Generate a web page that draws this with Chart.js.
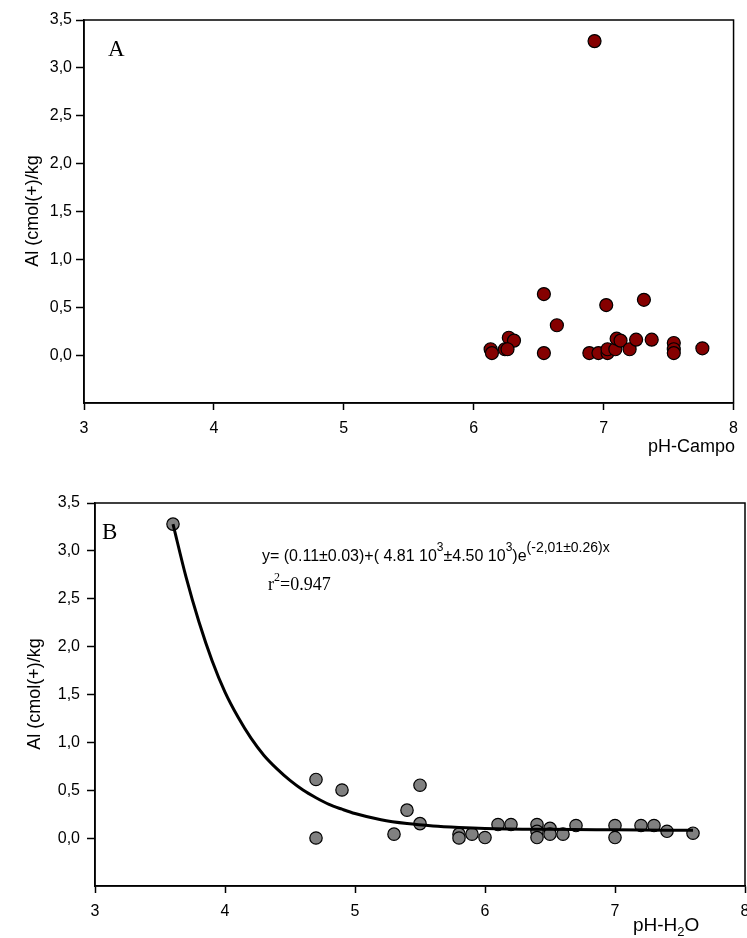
<!DOCTYPE html>
<html>
<head>
<meta charset="utf-8">
<script src="https://cdn.jsdelivr.net/npm/chart.js@4.4.1/dist/chart.umd.min.js"></script>
<style>
  html, body { margin:0; padding:0; background:#fff; overflow:hidden; width:747px; height:938px; }
  #wa { position:absolute; left:0; top:0; }
  #wb { position:absolute; left:0; top:460px; }
</style>
</head>
<body>
<div id="wa"><canvas id="ca" width="747" height="460"></canvas></div>
<div id="wb"><canvas id="cb" width="760" height="478"></canvas></div>
<script>
// ---------- Data ----------
const xTicks = [3, 4, 5, 6, 7, 8];
const yTicks = [0, 0.5, 1.0, 1.5, 2.0, 2.5, 3.0, 3.5];

// Panel A: Al vs pH-Campo
const phCampo = [6.93, 6.54, 6.64, 7.02, 7.31, 6.27, 6.31, 6.13, 6.14, 6.24, 6.26, 6.54, 6.89, 6.96, 7.03, 7.03, 7.09, 7.10, 7.13, 7.20, 7.25, 7.37, 7.54, 7.54, 7.54, 7.76];
const alCampo = [3.28, 0.645, 0.32, 0.53, 0.585, 0.19, 0.16, 0.07, 0.03, 0.07, 0.07, 0.03, 0.03, 0.03, 0.03, 0.07, 0.07, 0.18, 0.16, 0.07, 0.17, 0.17, 0.135, 0.07, 0.03, 0.08];

// Panel B: Al vs pH-H2O
const phH2O = [3.6, 4.7, 4.7, 4.9, 5.3, 5.4, 5.5, 5.5, 5.8, 5.8, 5.9, 6.0, 6.1, 6.2, 6.4, 6.4, 6.4, 6.5, 6.5, 6.6, 6.7, 7.0, 7.0, 7.2, 7.3, 7.4, 7.6];
const alH2O = [3.28, 0.62, 0.01, 0.51, 0.05, 0.30, 0.56, 0.16, 0.05, 0.01, 0.05, 0.015, 0.15, 0.15, 0.15, 0.08, 0.015, 0.11, 0.05, 0.05, 0.14, 0.14, 0.015, 0.14, 0.14, 0.08, 0.06];

// Fitted curve of panel B
const fitX = [3.6, 3.7, 3.8, 3.9, 4.0, 4.1, 4.2, 4.3, 4.4, 4.5, 4.6, 4.7, 4.8, 4.9, 5.0, 5.2, 5.4, 5.6, 5.8, 6.0, 6.5, 7.0, 7.6];
const fitY = [3.28, 2.73, 2.26, 1.86, 1.53, 1.27, 1.05, 0.87, 0.73, 0.61, 0.51, 0.43, 0.36, 0.31, 0.265, 0.20, 0.16, 0.135, 0.12, 0.11, 0.10, 0.095, 0.09];

// ---------- Helpers ----------
const SANS = '"Liberation Sans", Arial, sans-serif';
const SERIF = '"Liberation Serif", "Times New Roman", serif';
const pts = (xs, ys) => xs.map((x, i) => ({ x: x, y: ys[i] }));
const fmtY = v => Number(v).toFixed(1).replace('.', ',');

const annot = {
  id: 'annot',
  afterDraw(chart, args, opts) {
    const ctx = chart.ctx, a = chart.chartArea;
    ctx.save();
    ctx.strokeStyle = '#000';
    ctx.lineWidth = 1.5;
    ctx.strokeRect(a.left, a.top, a.right - a.left, a.bottom - a.top);
    (opts.texts || []).forEach(item => {
      ctx.save();
      ctx.fillStyle = '#000';
      ctx.textBaseline = 'middle';
      ctx.textAlign = 'left';
      let w = 0;
      item.parts.forEach(p => { ctx.font = p.f; w += ctx.measureText(p.t).width; });
      ctx.translate(item.x, item.y);
      if (item.rot) ctx.rotate(item.rot * Math.PI / 180);
      let x0 = 0;
      if (item.align === 'center') x0 = -w / 2;
      else if (item.align === 'right') x0 = -w;
      item.parts.forEach(p => {
        ctx.font = p.f;
        ctx.fillText(p.t, x0, p.dy || 0);
        x0 += ctx.measureText(p.t).width;
      });
      ctx.restore();
    });
    ctx.restore();
  }
};

function axes(yWidth, xHeight, yPad, xPad) {
  return {
    x: {
      type: 'linear', min: 3, max: 8,
      afterBuildTicks: s => { s.ticks = xTicks.map(v => ({ value: v })); },
      afterFit: s => { s.height = xHeight; },
      ticks: { font: { family: SANS, size: 16 }, color: '#000', padding: xPad, callback: v => String(v) },
      grid: { display: true, drawOnChartArea: false, drawTicks: true, tickLength: 7, tickColor: '#000', tickWidth: 1.5 },
      border: { display: true, color: '#000', width: 1.5 }
    },
    y: {
      type: 'linear', min: -0.49, max: 3.5,
      afterBuildTicks: s => { s.ticks = yTicks.map(v => ({ value: v })); },
      afterFit: s => { s.width = yWidth; },
      ticks: { font: { family: SANS, size: 16 }, color: '#000', padding: yPad, callback: fmtY },
      grid: { display: true, drawOnChartArea: false, drawTicks: true, tickLength: 8, tickColor: '#000', tickWidth: 1.5 },
      border: { display: true, color: '#000', width: 1.5 }
    }
  };
}

Chart.defaults.font.family = SANS;

// ---------- Chart A ----------
new Chart(document.getElementById('ca'), {
  type: 'scatter',
  data: {
    datasets: [{
      label: 'pH-Campo',
      data: pts(phCampo, alCampo),
      backgroundColor: '#850000',
      borderColor: '#000',
      borderWidth: 1.2,
      pointRadius: 6.5,
      pointHoverRadius: 6.5
    }]
  },
  options: {
    responsive: false, animation: false, devicePixelRatio: 1,
    layout: { padding: { top: 20, right: 10, left: 0, bottom: 0 } },
    scales: axes(84, 57, 4, 9),
    plugins: {
      legend: { display: false }, tooltip: { enabled: false },
      annot: {
        texts: [
          { x: 33, y: 211, rot: -90, align: 'center', parts: [{ t: 'Al (cmol(+)/kg', f: '18px ' + SANS }] },
          { x: 108, y: 50, align: 'left', parts: [{ t: 'A', f: '23px ' + SERIF }] },
          { x: 735, y: 447, align: 'right', parts: [{ t: 'pH-Campo', f: '18px ' + SANS }] }
        ]
      }
    }
  },
  plugins: [annot]
});

// ---------- Chart B ----------
new Chart(document.getElementById('cb'), {
  type: 'scatter',
  data: {
    datasets: [{
      type: 'line',
      label: 'ajuste',
      data: pts(fitX, fitY),
      borderColor: '#000',
      borderWidth: 3,
      pointRadius: 0,
      fill: false,
      cubicInterpolationMode: 'monotone',
      order: 0
    }, {
      label: 'pH-H2O',
      data: pts(phH2O, alH2O),
      backgroundColor: '#808080',
      borderColor: '#000',
      borderWidth: 1.2,
      pointRadius: 6.2,
      pointHoverRadius: 6.2,
      order: 1
    }]
  },
  options: {
    responsive: false, animation: false, devicePixelRatio: 1,
    layout: { padding: { top: 43, right: 15, left: 0, bottom: 0 } },
    scales: axes(95, 52, 7, 9),
    plugins: {
      legend: { display: false }, tooltip: { enabled: false },
      annot: {
        texts: [
          { x: 35, y: 234, rot: -90, align: 'center', parts: [{ t: 'Al (cmol(+)/kg', f: '18px ' + SANS }] },
          { x: 102, y: 73, align: 'left', parts: [{ t: 'B', f: '23px ' + SERIF }] },
          { x: 633, y: 466, align: 'left', parts: [
            { t: 'pH-H', f: '19px ' + SANS },
            { t: '2', f: '13px ' + SANS, dy: 6 },
            { t: 'O', f: '19px ' + SANS }
          ] },
          { x: 262, y: 97, align: 'left', parts: [
            { t: 'y= (0.11±0.03)+( 4.81 10', f: '16px ' + SANS },
            { t: '3', f: '12px ' + SANS, dy: -9 },
            { t: '±4.50 10', f: '16px ' + SANS },
            { t: '3', f: '12px ' + SANS, dy: -9 },
            { t: ')e', f: '16px ' + SANS },
            { t: '(-2,01±0.26)x', f: '14px ' + SANS, dy: -9 }
          ] },
          { x: 268, y: 125, align: 'left', parts: [
            { t: 'r', f: '18px ' + SERIF },
            { t: '2', f: '12px ' + SERIF, dy: -7 },
            { t: '=0.947', f: '18px ' + SERIF }
          ] }
        ]
      }
    }
  },
  plugins: [annot]
});
</script>
</body>
</html>
